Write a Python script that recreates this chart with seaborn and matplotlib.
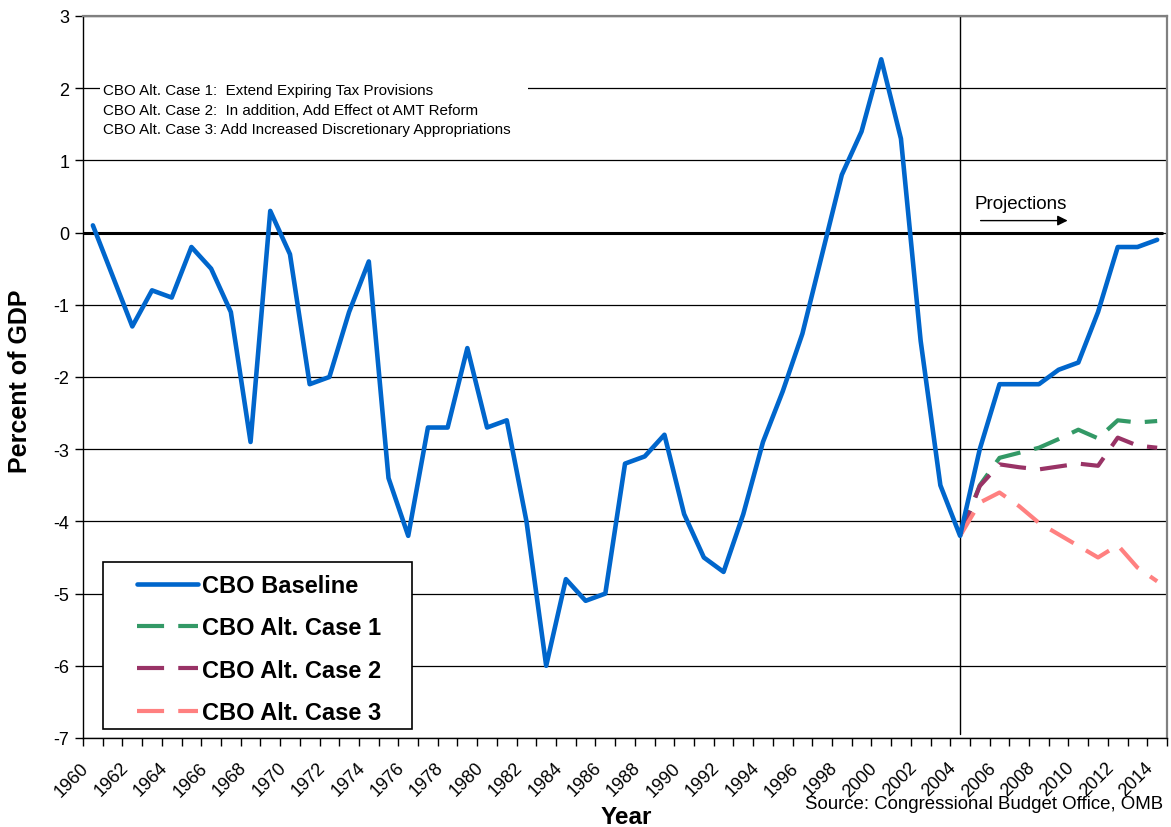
import numpy as np
import matplotlib
matplotlib.use("Agg")
import matplotlib.pyplot as plt
from matplotlib.patches import Rectangle
from matplotlib.transforms import ScaledTranslation
import seaborn as sns

# deficit / surplus as percent of GDP
years = list(range(1960, 2015))
baseline = [0.1, -0.6, -1.3, -0.8, -0.9, -0.2, -0.5, -1.1, -2.9, 0.3,
            -0.3, -2.1, -2.0, -1.1, -0.4, -3.4, -4.2, -2.7, -2.7, -1.6,
            -2.7, -2.6, -4.0, -6.0, -4.8, -5.1, -5.0, -3.2, -3.1, -2.8,
            -3.9, -4.5, -4.7, -3.9, -2.9, -2.2, -1.4, -0.3, 0.8, 1.4,
            2.4, 1.3, -1.5, -3.5, -4.2, -3.0, -2.1, -2.1, -2.1, -1.9,
            -1.8, -1.1, -0.2, -0.2, -0.1]

proj_years = list(range(2004, 2015))
alt_case1 = [-4.2, -3.5, -3.12, -3.05, -2.98, -2.86, -2.73, -2.85, -2.6, -2.63, -2.61]
alt_case2 = [-4.2, -3.51, -3.21, -3.25, -3.28, -3.24, -3.2, -3.23, -2.84, -2.95, -2.98]
alt_case3 = [-4.2, -3.74, -3.6, -3.79, -4.02, -4.18, -4.34, -4.5, -4.33, -4.64, -4.83]

notes = ["CBO Alt. Case 1:  Extend Expiring Tax Provisions",
         "CBO Alt. Case 2:  In addition, Add Effect ot AMT Reform",
         "CBO Alt. Case 3: Add Increased Discretionary Appropriations"]

sns.set_style("white")
plt.rcParams['font.family'] = ['Liberation Sans', 'DejaVu Sans']
plt.rcParams['text.color'] = 'black'
plt.rcParams['xtick.color'] = 'black'
plt.rcParams['ytick.color'] = 'black'
plt.rcParams['axes.unicode_minus'] = False

fig = plt.figure(figsize=(11.71, 8.28), dpi=100)
ax = fig.add_axes([0.0709, 0.1075, 0.9257, 0.872])

dash = (0, (6.5, 3.4))
sns.lineplot(x=years, y=baseline, ax=ax, color='#0066CC', lw=3.3,
             label='CBO Baseline', zorder=5)
sns.lineplot(x=proj_years, y=alt_case1, ax=ax, color='#339966', lw=3,
             linestyle=dash, label='CBO Alt. Case 1', zorder=4)
sns.lineplot(x=proj_years, y=alt_case2, ax=ax, color='#993366', lw=3,
             linestyle=dash, label='CBO Alt. Case 2', zorder=4)
sns.lineplot(x=proj_years, y=alt_case3, ax=ax, color='#FF8080', lw=3,
             linestyle=dash, label='CBO Alt. Case 3', zorder=4)

ax.set_xlim(1959.5, 2014.5)
ax.set_ylim(-7, 3)
ax.set_yticks(range(-7, 4))
ax.set_xticks(years[::2])
ax.set_xticks(np.arange(1959.5, 2015, 1), minor=True)
ax.set_xlabel('')
ax.set_ylabel('')

ax.set_axisbelow(True)
ax.yaxis.grid(True, color='black', lw=0.9)
ax.xaxis.grid(False)
ax.axhline(0, color='black', lw=2.2, zorder=1.8, xmax=0.995)
ax.axvline(2004, ymin=0.005, color='black', lw=1, zorder=1.8)

for side in ['left', 'bottom']:
    ax.spines[side].set_color('black')
    ax.spines[side].set_linewidth(1)
for side in ['top', 'right']:
    ax.spines[side].set_color('#808080')
    ax.spines[side].set_linewidth(1.6)

ax.tick_params(axis='y', direction='out', length=6, width=1,
               labelsize=13, pad=4, left=True)
ax.tick_params(axis='x', which='major', length=0, labelsize=13, pad=15, bottom=True)
ax.tick_params(axis='x', which='minor', direction='out', length=6, width=1,
               bottom=True)
offset = ScaledTranslation(-9 / 72, 0, fig.dpi_scale_trans)
for lbl in ax.get_xticklabels():
    lbl.set_rotation(45)
    lbl.set_ha('right')
    lbl.set_va('top')
    lbl.set_rotation_mode('anchor')
    lbl.set_transform(lbl.get_transform() + offset)

# white box behind the notes hides the gridline at 2
ax.add_patch(Rectangle((1960.36, 1.25), 21.72, 0.95, facecolor='white',
                       edgecolor='none', zorder=1))
for i, note in enumerate(notes):
    ax.text(1960.5, 1.97 - i * 0.267, note, fontsize=10.9, va='center',
            ha='left', zorder=3)

ax.text(2004.75, 0.40, 'Projections', fontsize=13.5, va='center', ha='left')
ax.annotate('', xy=(2009.6, 0.166), xytext=(2004.9, 0.166),
            arrowprops=dict(arrowstyle='-|>', color='black', lw=1,
                            mutation_scale=15))

# legend box drawn separately so its padding matches
ax.add_patch(Rectangle((103 / 1171, 1 - 730 / 828), 309 / 1171, 167 / 828,
                       transform=fig.transFigure, facecolor='white',
                       edgecolor='black', lw=1.2, zorder=5.5, clip_on=False))
leg = ax.legend(loc='upper left', bbox_to_anchor=(137 / 1171, 1 - 575 / 828),
                bbox_transform=fig.transFigure, frameon=False,
                prop={'weight': 'bold', 'size': 17}, handlelength=2.6,
                handletextpad=0.15, labelspacing=0.82, borderpad=0,
                borderaxespad=0)
leg.set_zorder(6)

fig.text(0.017, 0.54, 'Percent of GDP', rotation=90, fontsize=18,
         fontweight='bold', ha='center', va='center')
fig.text(0.535, 0.013, 'Year', fontsize=17.5, fontweight='bold',
         ha='center', va='center')
fig.text(0.993, 0.028, 'Source: Congressional Budget Office, OMB',
         fontsize=13.4, ha='right', va='center')

fig.savefig('out.png', dpi=100)
